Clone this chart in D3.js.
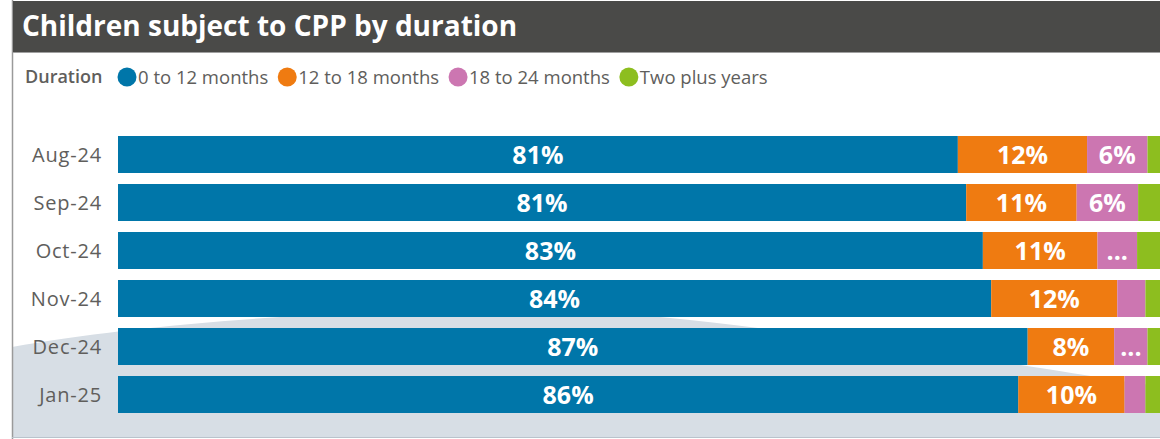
<!DOCTYPE html>
<html>
<head>
<meta charset="utf-8">
<script src="https://cdn.jsdelivr.net/npm/d3@7"></script>
<style>
  body { margin: 0; background: #fff; }
  svg { display: block; }
</style>
</head>
<body>
<div id="chart"></div>
<script>
const months = ["Aug-24", "Sep-24", "Oct-24", "Nov-24", "Dec-24", "Jan-25"];
const keys = ["m0to12", "m12to18", "m18to24", "twoPlus"];
const legendLabels = ["0 to 12 months", "12 to 18 months", "18 to 24 months", "Two plus years"];
const m0to12 = [80.6, 81.4, 83.0, 83.8, 87.3, 86.4];
const m12to18 = [12.4, 10.6, 11.0, 12.1, 8.3, 10.2];
const m18to24 = [5.8, 5.9, 3.8, 2.7, 3.2, 2.0];
const twoPlus = [1.2, 2.1, 2.2, 1.4, 1.2, 1.4];

const data = months.map((m, i) => ({
    month: m,
    m0to12: m0to12[i],
    m12to18: m12to18[i],
    m18to24: m18to24[i],
    twoPlus: twoPlus[i]
}));

drawChart(data);

function drawChart(data) {
    const width = 1160, height = 439, margin = { top: 136, right: 0, bottom: 26, left: 118 };
    const font = "'Open Sans', 'Noto Sans', sans-serif";
    const svg = d3.select("#chart").append("svg")
        .attr("width", width)
        .attr("height", height);

    // background hill
    svg.append("path")
        .attr("d", "M12,347 C150,322 380,306 560,311 C690,315 790,333 960,356 C1060,370 1120,382 1160,386 L1160,437 L12,437 Z")
        .attr("fill", "#d7dee5");

    // frame
    svg.append("line").attr("x1", 12.5).attr("x2", 12.5).attr("y1", 0).attr("y2", 439)
        .attr("stroke", "#9a9a9a").attr("stroke-width", 1.5);
    svg.append("line").attr("x1", 12).attr("x2", width).attr("y1", 437.5).attr("y2", 437.5)
        .attr("stroke", "#b9c3cc").attr("stroke-width", 1);

    // title bar
    svg.append("rect")
        .attr("x", 13).attr("y", 1).attr("width", width - 13).attr("height", 51)
        .attr("fill", "#4a4a48");
    svg.append("line").attr("x1", 13).attr("x2", width).attr("y1", 52.5).attr("y2", 52.5)
        .attr("stroke", "#a0a0a0");
    svg.append("text")
        .attr("x", 22).attr("y", 36)
        .attr("font-family", font).attr("font-weight", 700).attr("font-size", "28px")
        .attr("fill", "#fff")
        .text("Children subject to CPP by duration");

    const x = d3.scaleLinear()
        .domain([0, 100])
        .range([margin.left, width - margin.right]);

    const y = d3.scaleBand()
        .domain(months)
        .range([margin.top, height - margin.bottom])
        .paddingInner(11 / 48)
        .paddingOuter(0);

    const color = d3.scaleOrdinal()
        .domain(keys)
        .range(["#0076a9", "#ef7b11", "#cc76b1", "#8dbe1f"]);

    const series = d3.stack().keys(keys)(data);

    const groups = svg.append("g")
        .selectAll("g")
        .data(series)
        .join("g")
        .attr("fill", d => color(d.key));

    groups.selectAll("rect")
        .data(d => d)
        .join("rect")
        .attr("x", d => x(d[0]))
        .attr("y", d => y(d.data.month))
        .attr("width", d => x(d[1]) - x(d[0]))
        .attr("height", y.bandwidth());

    groups.selectAll("text")
        .data(d => d)
        .join("text")
        .attr("x", d => (x(d[0]) + x(d[1])) / 2)
        .attr("y", d => y(d.data.month) + y.bandwidth() / 2 + 9)
        .attr("text-anchor", "middle")
        .attr("font-family", font).attr("font-weight", 700).attr("font-size", "25px")
        .attr("fill", "#fff")
        .text(d => {
            const v = d[1] - d[0];
            const w = x(d[1]) - x(d[0]);
            if (w >= 55) return Math.round(v) + "%";
            if (w >= 30) return "...";
            return "";
        });

    // category labels
    svg.append("g")
        .selectAll("text")
        .data(months)
        .join("text")
        .attr("x", 102)
        .attr("y", d => y(d) + y.bandwidth() / 2 + 7)
        .attr("text-anchor", "end")
        .attr("font-family", font).attr("font-size", "20px")
        .attr("letter-spacing", "0.8px")
        .attr("fill", "#605e5c")
        .text(d => d);

    addLegend(svg, color, font);
}

function addLegend(svg, color, font) {
    const legend = svg.append("g").attr("transform", "translate(0,77)");
    legend.append("text")
        .attr("x", 25).attr("y", 6)
        .attr("font-family", font).attr("font-weight", 600).attr("font-size", "18px")
        .attr("fill", "#605e5c")
        .text("Duration");

    let cx = 127;
    keys.forEach((k, i) => {
        legend.append("circle")
            .attr("cx", cx).attr("cy", 0).attr("r", 9.5)
            .attr("fill", color(k));
        const t = legend.append("text")
            .attr("x", cx + 11).attr("y", 6.5)
            .attr("font-family", font).attr("font-size", "18.5px")
            .attr("fill", "#605e5c")
            .text(legendLabels[i]);
        cx += 11 + t.node().getComputedTextLength() + 19;
    });
}
</script>
</body>
</html>
